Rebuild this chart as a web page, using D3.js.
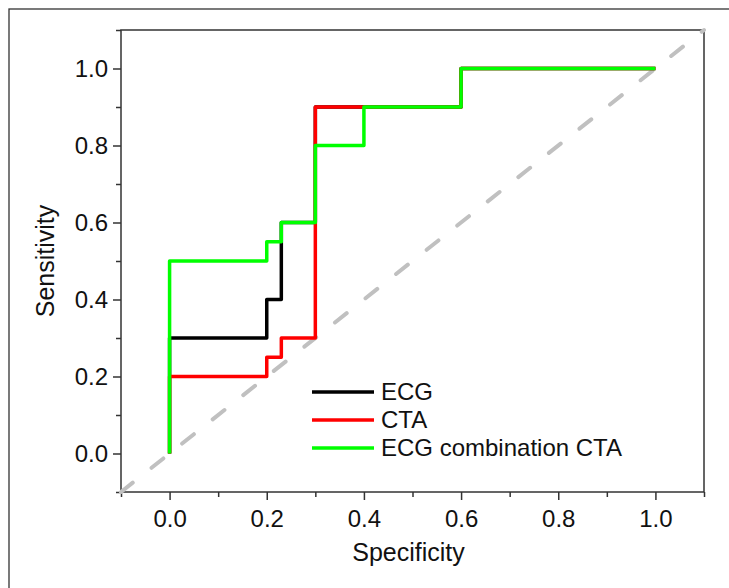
<!DOCTYPE html>
<html>
<head>
<meta charset="utf-8">
<script src="https://cdn.jsdelivr.net/npm/d3@7"></script>
<style>
  body { margin: 0; background: #fff; }
  text { font-family: "Liberation Sans", Arial, sans-serif; fill: #111; }
</style>
</head>
<body>
<div id="chart"></div>
<script>
// ROC corner points (specificity axis, sensitivity axis)
var specEcg  = [0, 0,   0.2, 0.2, 0.23, 0.23, 0.3, 0.3, 0.4, 0.6, 0.6, 1.0];
var sensEcg  = [0, 0.3, 0.3, 0.4, 0.4,  0.6,  0.6, 0.9, 0.9, 0.9, 1.0, 1.0];
var specCta  = [0, 0,   0.2, 0.2,  0.23, 0.23, 0.3, 0.3, 0.4, 0.6, 0.6, 1.0];
var sensCta  = [0, 0.2, 0.2, 0.25, 0.25, 0.3,  0.3, 0.9, 0.9, 0.9, 1.0, 1.0];
var specComb = [0, 0,   0.2, 0.2,  0.23, 0.23, 0.3, 0.3, 0.4, 0.4, 0.6, 0.6, 1.0];
var sensComb = [0, 0.5, 0.5, 0.55, 0.55, 0.6,  0.6, 0.8, 0.8, 0.9, 0.9, 1.0, 1.0];

var seriesNames = ["ECG", "CTA", "ECG combination CTA"];
var seriesColors = ["#000000", "#ff0000", "#00ff00"];
var majorTicks = [0, 0.2, 0.4, 0.6, 0.8, 1.0];
var minorTicks = [-0.1, 0.1, 0.3, 0.5, 0.7, 0.9, 1.1];

var W = 729, H = 588;
var margin = {top: 30, right: 25, bottom: 96, left: 121},
    width = W - margin.left - margin.right,
    height = H - margin.top - margin.bottom;

var svgRoot = d3.select("#chart")
  .append("svg")
    .attr("width", W)
    .attr("height", H);

// outer frame (only top and left visible inside the picture)
svgRoot.append("rect")
  .attr("x", 9).attr("y", 9)
  .attr("width", W + 20).attr("height", H + 20)
  .attr("fill", "none")
  .attr("stroke", "#333")
  .attr("stroke-width", 1.3);

var svg = svgRoot.append("g")
  .attr("transform", "translate(" + margin.left + "," + margin.top + ")");

var x = d3.scaleLinear().domain([-0.1, 1.1]).range([0, width]);
var y = d3.scaleLinear().domain([-0.1, 1.1]).range([height, 0]);

// minor ticks
svg.append("g")
  .attr("transform", "translate(0," + height + ")")
  .call(d3.axisBottom(x).tickValues(minorTicks).tickSize(5).tickFormat(""))
  .call(function(g) { g.select(".domain").remove(); });
svg.append("g")
  .call(d3.axisLeft(y).tickValues(minorTicks).tickSize(5).tickFormat(""))
  .call(function(g) { g.select(".domain").remove(); });

// major ticks
var xAxis = svg.append("g")
  .attr("transform", "translate(0," + height + ")")
  .call(d3.axisBottom(x).tickValues(majorTicks).tickSize(8).tickSizeOuter(0).tickFormat(d3.format(".1f")));
xAxis.selectAll("text")
  .attr("y", 35).attr("dy", 0)
  .style("font-size", "24px");

var yAxis = svg.append("g")
  .call(d3.axisLeft(y).tickValues(majorTicks).tickSize(8).tickSizeOuter(0).tickPadding(5).tickFormat(d3.format(".1f")));
yAxis.selectAll("text")
  .style("font-size", "24px");

svg.selectAll(".tick line").attr("stroke", "#333").attr("stroke-width", 1.5);
svg.selectAll(".domain").remove();

// plot box
svg.append("rect")
  .attr("width", width).attr("height", height)
  .attr("fill", "none")
  .attr("stroke", "#333")
  .attr("stroke-width", 1.5);

// reference diagonal
svg.append("line")
  .attr("x1", x(-0.1)).attr("y1", y(-0.1))
  .attr("x2", x(1.1)).attr("y2", y(1.1))
  .attr("stroke", "#c0c0c0")
  .attr("stroke-width", 4)
  .attr("stroke-linecap", "round")
  .attr("stroke-dasharray", "15,24");

var line = d3.line()
  .x(function(d) { return x(d[0]); })
  .y(function(d) { return y(d[1]); });

var curves = [
  d3.zip(specEcg, sensEcg),
  d3.zip(specCta, sensCta),
  d3.zip(specComb, sensComb)
];

curves.forEach(function(pts, i) {
  svg.append("path")
    .datum(pts)
    .attr("d", line)
    .attr("fill", "none")
    .attr("stroke", seriesColors[i])
    .attr("stroke-width", 3.5)
    .attr("stroke-linejoin", "round");
});

// legend
var legend = svg.append("g")
  .attr("transform", "translate(" + (312 - margin.left) + "," + (392 - margin.top) + ")");
seriesNames.forEach(function(name, i) {
  var gy = i * 28;
  legend.append("line")
    .attr("x1", 0).attr("x2", 62)
    .attr("y1", gy).attr("y2", gy)
    .attr("stroke", seriesColors[i])
    .attr("stroke-width", 3.5);
  legend.append("text")
    .attr("x", 69).attr("y", gy)
    .attr("dy", "0.35em")
    .style("font-size", "24px")
    .text(name);
});

// axis titles
svg.append("text")
  .attr("x", width / 2 - 4)
  .attr("y", height + 69)
  .attr("text-anchor", "middle")
  .style("font-size", "25px")
  .text("Specificity");

svg.append("text")
  .attr("transform", "translate(" + (54 - margin.left) + "," + (height / 2) + ") rotate(-90)")
  .attr("text-anchor", "middle")
  .style("font-size", "25px")
  .text("Sensitivity");
</script>
</body>
</html>
